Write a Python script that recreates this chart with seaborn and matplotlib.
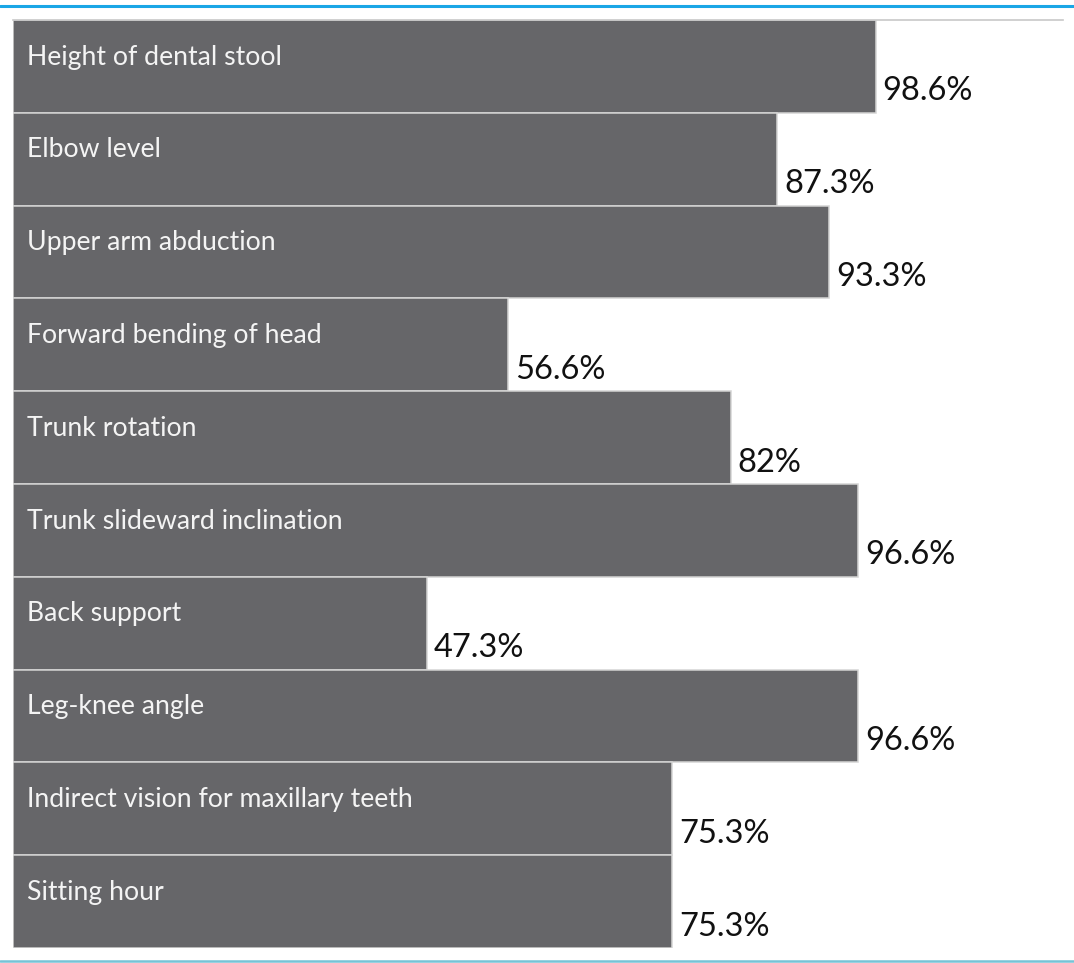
import pandas as pd
import seaborn as sns
import matplotlib.pyplot as plt
from matplotlib.lines import Line2D

factors = ["Height of dental stool", "Elbow level", "Upper arm abduction",
           "Forward bending of head", "Trunk rotation", "Trunk slideward inclination",
           "Back support", "Leg-knee angle", "Indirect vision for maxillary teeth",
           "Sitting hour"]
percent = [98.6, 87.3, 93.3, 56.6, 82, 96.6, 47.3, 96.6, 75.3, 75.3]
value_labels = ["98.6%", "87.3%", "93.3%", "56.6%", "82%", "96.6%", "47.3%",
                "96.6%", "75.3%", "75.3%"]

df = pd.DataFrame({"factor": factors, "percent": percent})

sns.set_style("white")
plt.rcParams["font.family"] = ["Lato", "DejaVu Sans"]

fig = plt.figure(figsize=(10.74, 9.63), dpi=100)
ax = fig.add_axes([13 / 1074, 1 - 948 / 963, 1050 / 1074, 928 / 963])

sns.barplot(data=df, x="percent", y="factor", orient="h", color="#666669",
            saturation=1, width=1.0, edgecolor="#d4d4d4", linewidth=1.1, ax=ax)

ax.set_xlim(0, 120)
ax.set_ylim(len(factors) - 0.5, -0.5)

for i, (name, val, lab) in enumerate(zip(factors, percent, value_labels)):
    ax.text(1.6, i - 0.1, name, color="#f4f4f4", fontsize=19.2, va="center", ha="left")
    ax.text(val + 0.8, i + 0.27, lab, color="#111111", fontsize=23.5, va="center", ha="left")

ax.set_xlabel("")
ax.set_ylabel("")
ax.set_xticks([])
ax.set_yticks([])
for s in ["left", "right", "bottom"]:
    ax.spines[s].set_visible(False)
ax.spines["top"].set_color("#c8c8c8")
ax.spines["top"].set_linewidth(1.2)

# blue frame lines
fig.add_artist(Line2D([0, 1], [1 - 6 / 963, 1 - 6 / 963], color="#1aa6e6", linewidth=2.2,
                      transform=fig.transFigure))
fig.add_artist(Line2D([0, 1], [1 - 961 / 963, 1 - 961 / 963], color="#76c3d6", linewidth=1.8,
                      transform=fig.transFigure))

fig.savefig("out.png", dpi=100)
